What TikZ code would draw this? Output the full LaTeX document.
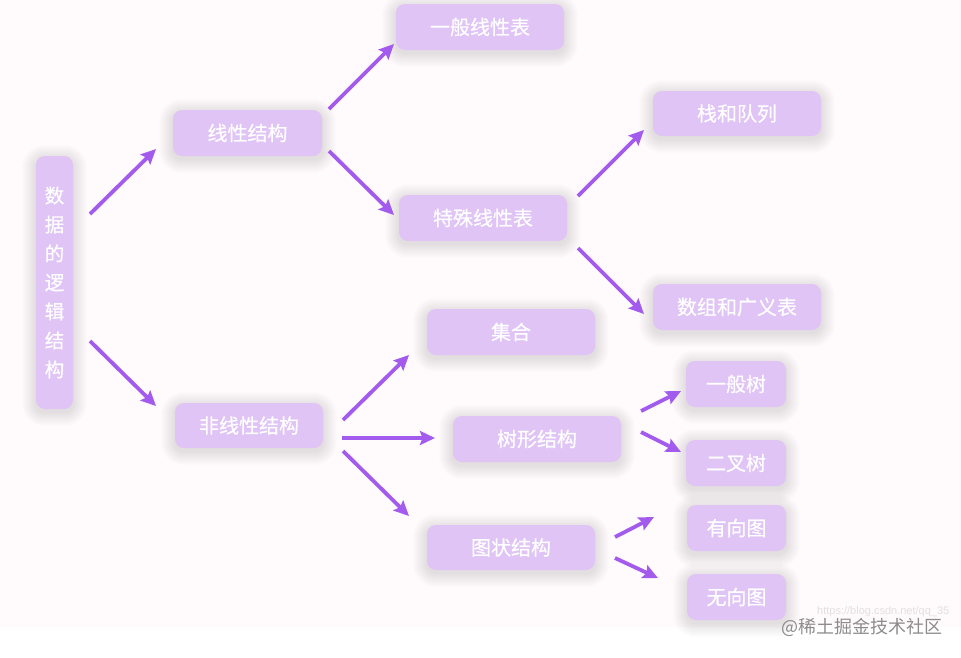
\documentclass[tikz,border=0pt]{standalone}
\usepackage{fontspec}
\setmainfont{Noto Sans CJK SC}
\newfontfamily\boxfont[FakeBold=0.5]{Noto Sans CJK SC}
\newfontfamily\latinfont{Liberation Sans}
\usetikzlibrary{arrows.meta}
\pgfdeclarelayer{bottom}
\pgfdeclarelayer{shadowlayer}
\pgfsetlayers{bottom,shadowlayer,main}
\definecolor{bgpink}{HTML}{FFFAFB}
\definecolor{boxfill}{HTML}{DFC4F5}
\definecolor{arrowc}{HTML}{A25BEC}
\tikzset{
  box/.style={draw=none, fill=boxfill, rounded corners=9pt, inner sep=0pt,
    text=white, font=\boxfont\fontsize{20}{22}\selectfont},
  shadowring/.style={fill=black!70, fill opacity=0.006},
  conn/.style={draw=arrowc, line width=3.8pt, -{Stealth[length=15pt,width=14pt,inset=2.5pt]}}
}
\begin{document}
\begin{tikzpicture}[x=1pt,y=-1pt]
\useasboundingbox (0,0) rectangle (961,657);
\begin{pgfonlayer}{bottom}
\fill[white] (0,0) rectangle (961,657);
\fill[bgpink] (0,0) rectangle (961,627);
\end{pgfonlayer}
% boxes: (centre x, centre y), width, height
\node[box, minimum width=37pt, minimum height=253pt, align=center,
  font=\boxfont\fontsize{19.5}{29}\selectfont] (root) at (54.5,282.5)
  {数\\据\\的\\逻\\辑\\结\\构};
\node[box, minimum width=149pt, minimum height=46pt] (lin) at (247.5,133) {线性结构};
\node[box, minimum width=148pt, minimum height=45pt] (nonlin) at (249,425.5) {非线性结构};
\node[box, minimum width=168pt, minimum height=46pt] (gen) at (480,27) {一般线性表};
\node[box, minimum width=168pt, minimum height=46pt] (spec) at (483,218) {特殊线性表};
\node[box, minimum width=168pt, minimum height=45pt] (stack) at (737,113.5) {栈和队列};
\node[box, minimum width=168pt, minimum height=46pt] (arr) at (737,307) {数组和广义表};
\node[box, minimum width=168pt, minimum height=46pt] (set) at (511,332) {集合};
\node[box, minimum width=168pt, minimum height=46pt] (tree) at (537,439) {树形结构};
\node[box, minimum width=168pt, minimum height=45pt] (graph) at (511,547.5) {图状结构};
\node[box, minimum width=100pt, minimum height=46pt] (gtree) at (736,384) {一般树};
\node[box, minimum width=100pt, minimum height=46pt] (btree) at (736,463) {二叉树};
\node[box, minimum width=99pt, minimum height=46pt] (dgraph) at (736.5,528) {有向图};
\node[box, minimum width=99pt, minimum height=46pt] (ugraph) at (736.5,597) {无向图};
% soft shadows
\begin{pgfonlayer}{shadowlayer}
\foreach \n in {root,lin,nonlin,gen,spec,stack,arr,set,tree,graph,gtree,btree,dgraph,ugraph}{
  \foreach \r in {1,...,14}{
    \fill[shadowring, rounded corners=9pt+\r pt]
      ([xshift=-\r pt, yshift=\r pt-3pt]\n.north west) rectangle ([xshift=\r pt, yshift=-\r pt-3pt]\n.south east);
  }
}
\end{pgfonlayer}
% arrow end points
\coordinate (a1s) at (90,214);  \coordinate (a1e) at (156,149);
\coordinate (a2s) at (90,341);  \coordinate (a2e) at (156,406);
\coordinate (a3s) at (329,109); \coordinate (a3e) at (394,44);
\coordinate (a4s) at (329,151); \coordinate (a4e) at (394,215);
\coordinate (a5s) at (578,196); \coordinate (a5e) at (644,130);
\coordinate (a6s) at (578,248); \coordinate (a6e) at (644,314);
\coordinate (a7s) at (343,420); \coordinate (a7e) at (409,355);
\coordinate (a8s) at (342,438); \coordinate (a8e) at (435,438);
\coordinate (a9s) at (343,451); \coordinate (a9e) at (409,516);
\coordinate (a10s) at (641,411); \coordinate (a10e) at (681,391);
\coordinate (a11s) at (641,432); \coordinate (a11e) at (681,452);
\coordinate (a12s) at (615,537); \coordinate (a12e) at (654,517);
\coordinate (a13s) at (615,558); \coordinate (a13e) at (658,578);
\foreach \i in {1,...,13} \draw[conn] (a\i s) -- (a\i e);
% watermarks
\node[anchor=west, text=black!12, font=\latinfont\fontsize{11}{12}\selectfont, inner sep=0pt] (wm1) at (817,612) {https://blog.csdn.net/qq\_35};
\node[anchor=west, text=black!45, font=\fontsize{18}{19}\selectfont, inner sep=0pt] (wm2) at (781,627) {@稀土掘金技术社区};
\end{tikzpicture}
\end{document}
